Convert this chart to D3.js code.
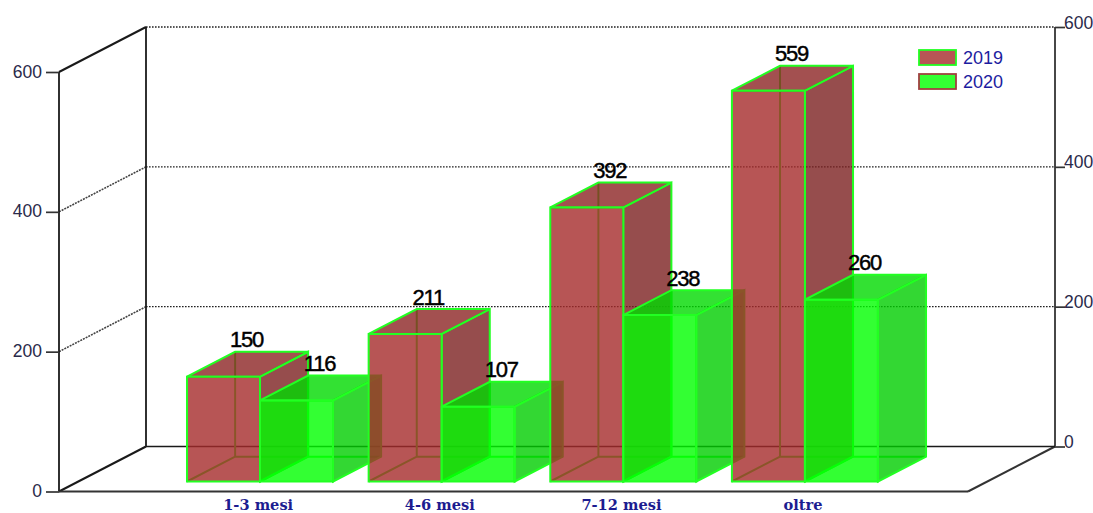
<!DOCTYPE html>
<html><head><meta charset="utf-8">
<script src="https://cdn.jsdelivr.net/npm/d3@7"></script>
<style>html,body{margin:0;padding:0;background:#fff}svg{display:block}</style>
</head><body><div id="c"></div>
<script>
const categories = ["1-3 mesi", "4-6 mesi", "7-12 mesi", "oltre"];
const seriesNames = ["2019", "2020"];
const values2019 = [150, 211, 392, 559];
const values2020 = [116, 107, 238, 260];
const yTicks = [0, 200, 400, 600];

const W = 1093, H = 513;
const depth = {dx: 87, dy: -45};
const y = d3.scaleLinear().domain([0, 600]).range([491.5, 72]);
const x = d3.scalePoint().domain(categories).range([240.7, 785.6]);
const plot = {left: 59, right: 968};
const barW = 73, z0 = 0.222, z1 = 0.775;
const P = (px, py, z) => [px + z * depth.dx, py + z * depth.dy];
const line = d3.line();
const svg = d3.select("#c").append("svg").attr("width", W).attr("height", H).attr("viewBox", `0 0 ${W} ${H}`);
const font = "'Liberation Sans', Arial, sans-serif";

// walls and floor
const g = svg.append("g").attr("fill", "none");
const solid = "#1a1a1a";
const seg = (a, b, c = solid, w = 1.8, dash = null) => g.append("path").attr("d", line([a, b])).attr("stroke", c).attr("stroke-width", w).attr("stroke-dasharray", dash);
yTicks.forEach(t => {
  if (t > 0) seg(P(plot.left, y(t), 1), [plot.right + depth.dx, y(t) + depth.dy], "#222", 1.4, "1.6 1.4");
  const strong = t === 0 || t === 600;
  seg(P(plot.left, y(t), 0), P(plot.left, y(t), 1), strong ? solid : "#444", strong ? 2 : 1.6, strong ? null : "2 1");
});
seg(P(plot.left, y(0), 0), P(plot.left, y(600), 0));
seg(P(plot.left, y(0), 1), P(plot.left, y(600), 1));
seg(P(plot.right, y(0), 1), P(plot.right, y(600), 1), "#333");
seg(P(plot.left, y(0), 0), P(plot.right, y(0), 0), "#333", 2);
seg(P(plot.right, y(0), 0), P(plot.right, y(0), 1), "#333", 2);
seg(P(plot.left, y(0), 1), P(plot.right, y(0), 1), solid, 1.6);

// axes via d3
const axL = svg.append("g").attr("transform", `translate(${plot.left},0)`).call(d3.axisLeft(y).tickValues(yTicks).tickSize(13).tickPadding(4).tickFormat(d3.format("d")));
const yBack = y.copy().range([y.range()[0] + depth.dy, y.range()[1] + depth.dy]);
const axR = svg.append("g").attr("transform", `translate(${plot.right + depth.dx},0)`).call(d3.axisRight(yBack).tickValues(yTicks).tickSize(10).tickPadding(-1).tickFormat(d3.format("d")));
[axL, axR].forEach(a => {
  a.select(".domain").remove();
  a.selectAll("line").attr("stroke", "#333").attr("stroke-width", 1.7);
  a.selectAll("text").attr("font-family", font).attr("font-size", 17.5).attr("fill", "#2a2a4a");
});
axR.selectAll("text").attr("dy", "0").attr("y", 1);
axL.selectAll("text").attr("dy", "0").attr("y", 5);

// bars
const faces = {
  "2019": {front: "rgba(165,42,42,.8)", top: "rgba(140,36,36,.8)", side: "rgba(124,32,32,.8)"},
  "2020": {front: "rgba(0,255,0,.8)", top: "rgba(0,218,0,.8)", side: "rgba(0,205,0,.8)"}
};
const edge = "#22ff22";
function bar(cat, val, name, i) {
  const l = x(cat) + (i - 1) * barW, r = l + barW, b = y(0), t = y(val);
  const q = (a, c, d, e) => line([a, c, d, e]) + "Z";
  const G = svg.append("g").attr("stroke", edge).attr("stroke-width", 2).attr("stroke-linejoin", "miter");
  const f = faces[name];
  // hidden edges
  G.append("path").attr("fill", "none").attr("d", line([P(l, t, z1), P(l, b, z1), P(r, b, z1)]) + line([P(l, b, z0), P(l, b, z1)]));
  G.append("path").attr("fill", f.side).attr("d", q(P(r, b, z0), P(r, t, z0), P(r, t, z1), P(r, b, z1)));
  G.append("path").attr("fill", f.top).attr("d", q(P(l, t, z0), P(l, t, z1), P(r, t, z1), P(r, t, z0)));
  G.append("path").attr("fill", f.front).attr("d", q(P(l, b, z0), P(l, t, z0), P(r, t, z0), P(r, b, z0)));
}
categories.forEach((c, k) => {
  bar(c, values2019[k], seriesNames[0], 0);
  bar(c, values2020[k], seriesNames[1], 1);
});

// value labels
categories.forEach((c, k) => {
  [values2019[k], values2020[k]].forEach((v, i) => {
    const cx = x(c) + (i - 0.5) * barW, zm = (z0 + z1) / 2;
    const pos = P(cx, y(v), zm);
    svg.append("text").attr("x", pos[0] - 1).attr("y", y(v) + depth.dy * z1 - 4.5)
      .attr("text-anchor", "middle").attr("font-family", font).attr("font-size", 22)
      .attr("letter-spacing", "-1.2").attr("fill", "#000").attr("stroke", "#000").attr("stroke-width", 0.45).text(v);
  });
});

// category labels
categories.forEach(c => {
  svg.append("text").attr("x", x(c) + 17.5).attr("y", 510).attr("text-anchor", "middle")
    .attr("font-family", "'DejaVu Serif', serif").attr("font-weight", "bold")
    .attr("font-size", 14.6).attr("fill", "#1c1c90").text(c);
});

// legend
const legend = [{n: seriesNames[0], fill: "#b75555", st: "#22ff22"}, {n: seriesNames[1], fill: "#33ff33", st: "#a04040"}];
legend.forEach((d, i) => {
  const ly = 50 + i * 24;
  svg.append("rect").attr("x", 919).attr("y", ly).attr("width", 37).attr("height", 15).attr("fill", d.fill).attr("stroke", d.st).attr("stroke-width", 1.8);
  svg.append("text").attr("x", 963).attr("y", ly + 13.5).attr("font-family", font).attr("font-size", 18).attr("fill", "#1c1ca0").text(d.n);
});
</script></body></html>
